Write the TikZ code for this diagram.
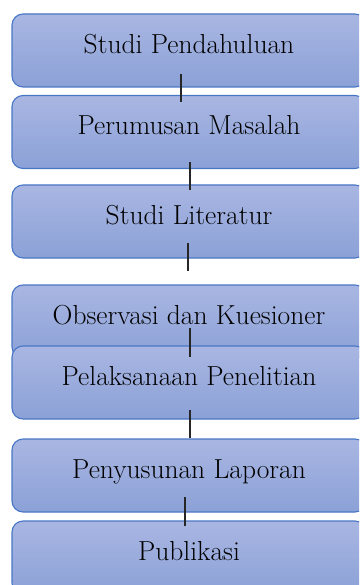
\documentclass[tikz,border=0pt]{standalone}
\definecolor{boxtop}{RGB}{169,182,226}
\definecolor{boxbot}{RGB}{139,161,215}
\definecolor{boxline}{RGB}{72,118,198}
\tikzset{
  stepbox/.style={draw=boxline, line width=1.1pt, rounded corners=11pt,
    top color=boxtop, bottom color=boxbot,
    minimum width=354pt, minimum height=73pt, inner sep=0pt,
    text height=13pt, text depth=7pt, font=\fontsize{27.5}{33}\selectfont},
  link/.style={line width=1.2pt, draw=black!85}
}
\begin{document}
\begin{tikzpicture}[x=1pt,y=-1pt]
      \clip (0,0) rectangle (359,585);
      \draw
        (189,50.5) node[stepbox] (1){Studi Pendahuluan}
        (189,132) node[stepbox] (2){Perumusan Masalah}
        (189,221.5) node[stepbox] (3){Studi Literatur}
        (189,321.5) node[stepbox] (4){Observasi dan Kuesioner}
        (189,382.5) node[stepbox] (5){Pelaksanaan Penelitian}
        (189,475.5) node[stepbox] (6){Penyusunan Laporan}
        (189,557.5) node[stepbox] (7){Publikasi};
      \coordinate (1a) at (181,74);  \coordinate (1b) at (181,102);
      \coordinate (2a) at (190,162); \coordinate (2b) at (190,190);
      \coordinate (3a) at (188,243); \coordinate (3b) at (188,271);
      \coordinate (4a) at (190,328); \coordinate (4b) at (190,357);
      \coordinate (5a) at (190,410); \coordinate (5b) at (190,438);
      \coordinate (6a) at (185,497); \coordinate (6b) at (185,526);
      \begin{scope}[link]
        \draw (1a) to (1b);
        \draw (2a) to (2b);
        \draw (3a) to (3b);
        \draw (4a) to (4b);
        \draw (5a) to (5b);
        \draw (6a) to (6b);
      \end{scope}
\end{tikzpicture}
\end{document}
